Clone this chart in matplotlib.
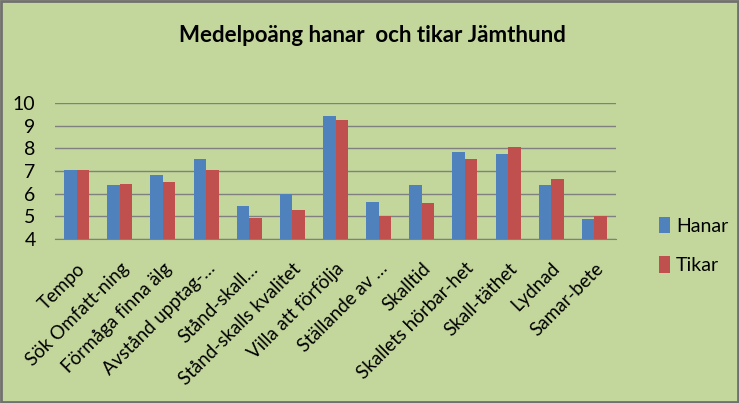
import matplotlib.pyplot as plt
import numpy as np
from matplotlib.patches import Rectangle

plt.rcParams['font.family'] = ['Lato', 'DejaVu Sans']

categories = ["Tempo", "Sök Omfatt-ning", "Förmåga finna älg", "Avstånd upptag-…",
              "Stånd-skall…", "Stånd-skalls kvalitet", "Villa att förfölja",
              "Ställande av …", "Skalltid", "Skallets hörbar-het", "Skall-täthet",
              "Lydnad", "Samar-bete"]
hanar = [7.03, 6.40, 6.84, 7.54, 5.44, 6.00, 9.41, 5.65, 6.40, 7.85, 7.76, 6.40, 4.90]
tikar = [7.03, 6.44, 6.53, 7.06, 4.91, 5.30, 9.23, 5.03, 5.60, 7.54, 8.07, 6.63, 5.03]

bg = "#C3D69B"
fig = plt.figure(figsize=(7.39, 4.03), dpi=100, facecolor=bg)
ax = fig.add_axes([55 / 739, 1 - 239 / 403, (616 - 55) / 739, (239 - 103) / 403])
ax.set_facecolor(bg)

x = np.arange(len(categories))
w = 0.29
ax.bar(x - w / 2, hanar, w, color="#4F81BD", label="Hanar", zorder=3)
ax.bar(x + w / 2, tikar, w, color="#C0504D", label="Tikar", zorder=3)

ax.set_xlim(-0.5, len(categories) - 0.5)
ax.set_ylim(4, 10)
ax.set_yticks(range(4, 11))
ax.grid(axis="y", color="#808080", linewidth=1, zorder=0)
for s in ["top", "right", "left"]:
    ax.spines[s].set_visible(False)
ax.spines["bottom"].set_color("#808080")
ax.tick_params(axis="y", length=0, labelsize=14, pad=14)
ax.tick_params(axis="x", length=0, pad=15)
ax.set_xticks(x)
ax.set_xticklabels(categories, rotation=45, ha="right", va="top",
                   rotation_mode="anchor", fontsize=13.5)

fig.text(372 / 739, 1 - 35 / 403, "Medelpoäng hanar  och tikar Jämthund",
         ha="center", va="center", fontsize=16, fontweight="bold")

ax.legend(loc="center left", bbox_to_anchor=(1.045, -0.05), frameon=False,
          fontsize=14, handlelength=0.6, handleheight=0.9, handletextpad=0.3,
          labelspacing=1.1)

fig.add_artist(Rectangle((0.002, 0.003), 0.996, 0.994, transform=fig.transFigure,
                         fill=False, edgecolor="#707070", linewidth=2))

plt.savefig("out.png", dpi=100, facecolor=bg)
